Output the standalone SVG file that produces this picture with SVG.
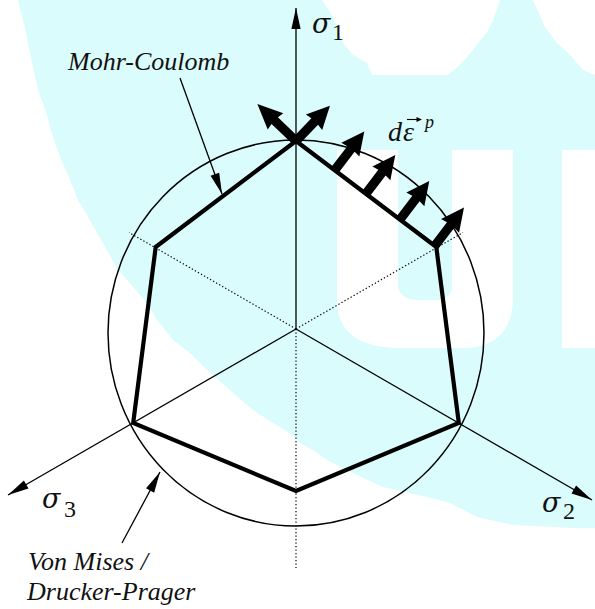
<svg xmlns="http://www.w3.org/2000/svg" xmlns:xlink="http://www.w3.org/1999/xlink" width="595" height="609" viewBox="0 0 595 609">
<style>
.bgc{fill:#dbfcfc}
.bgw{fill:#ffffff}
.thin{fill:none;stroke:#000;stroke-width:1.3}
.dot{fill:none;stroke:#000;stroke-width:1.2;stroke-dasharray:1.3 2.2}
.thick{fill:none;stroke:#000;stroke-width:4.2;stroke-linejoin:miter}
.lbl{font-family:"Liberation Serif","Times New Roman",serif;font-style:italic;font-size:26px;fill:#111}
.sig{font-family:"DejaVu Serif","Liberation Serif",serif;font-style:italic;font-size:27px;fill:#111}
.sub{font-family:"Liberation Serif","Times New Roman",serif;font-size:24px;fill:#111}
</style>
<defs>
<marker id="ah" markerUnits="userSpaceOnUse" markerWidth="24" markerHeight="12" viewBox="-22 -6 24 12" refX="0" refY="0" orient="auto">
<path d="M0,0 L-21,-4.6 L-21,4.6 Z" fill="#000"/>
</marker>
<path id="big" d="M0,-4.6 L27,-4.6 L26,-11.3 L49,0 L26,11.3 L27,4.6 L0,4.6 Z" fill="#000"/>
</defs>
<g id="background">
<rect class="bgc" x="0" y="0" width="595" height="609"/>
<polygon class="bgw" points="0,0 18,0 25,28 32,62 38,90 46,112 53,137 60,157 68,175 78,200 88,217 97,233 107,250 115,265 120,272 133,287 147,303 157,320 173,340 190,353 207,370 222,383 233,393 253,410 273,423 293,435 300,443 313,450 327,460 357,475 383,487 427,497 450,503 477,517 513,525 573,528 595,528 595,609 0,609"/>
<polygon class="bgw" points="322,0 333,17 343,43 353,55 367,63 372,75 448,75 462,63 473,50 487,32 493,20 500,0"/>
<polygon class="bgw" points="533,0 545,27 557,43 570,55 583,70 595,75 595,0"/>
<path class="bgw" d="M337,150 L337,305 Q341,348 400,348 L470,348 Q510,344 513,302 L513,150 L452,150 L452,288 Q450,300 435,300 L415,300 Q400,298 398,287 L398,150 Z"/>
<rect class="bgw" x="562" y="150" width="33" height="198"/>
</g>
<g id="connectors">
<line class="dot" x1="296" y1="329" x2="129" y2="232.5"/>
<line class="dot" x1="296" y1="329" x2="463" y2="232.5"/>
<line class="dot" x1="296" y1="329" x2="296" y2="568"/>
<line class="thin" x1="296" y1="329" x2="296" y2="8" marker-end="url(#ah)"/>
<line class="thin" x1="296" y1="329" x2="592" y2="500" marker-end="url(#ah)"/>
<line class="thin" x1="296" y1="329" x2="8" y2="495" marker-end="url(#ah)"/>
<line class="thin" x1="180" y1="78" x2="222" y2="194" marker-end="url(#ah)"/>
<line class="thin" x1="122" y1="543" x2="160" y2="472" marker-end="url(#ah)"/>
</g>
<g id="von-mises">
<ellipse cx="296" cy="333" rx="188" ry="193" fill="none" stroke="#000" stroke-width="1.5"/>
</g>
<g id="mohr-coulomb">
<polygon class="thick" points="296,141 436.3,247 458.8,423 296,491 133.2,423 155.7,247"/>
</g>
<g id="plastic-strain-arrows">
<use xlink:href="#big" transform="translate(296,141) rotate(-136.3) scale(1.09,1)"/>
<use xlink:href="#big" transform="translate(296,141) rotate(-46.1)"/>
<use xlink:href="#big" transform="translate(334.6,170.4) rotate(-52.7)"/>
<use xlink:href="#big" transform="translate(365.6,194.1) rotate(-52.7)"/>
<use xlink:href="#big" transform="translate(399.6,220) rotate(-52.7)"/>
<use xlink:href="#big" transform="translate(434.3,246.5) rotate(-52.7)"/>
</g>
<g id="labels">
<text class="lbl" x="68" y="70">Mohr-Coulomb</text>
<text class="lbl" x="28" y="570">Von Mises /</text>
<text class="lbl" x="27" y="600">Drucker-Prager</text>
<text class="sig" x="312" y="33">σ</text><text class="sub" x="332" y="40">1</text>
<text class="sig" x="42" y="508">σ</text><text class="sub" x="64" y="517">3</text>
<text class="sig" x="542" y="512">σ</text><text class="sub" x="563" y="519">2</text>
<text class="lbl" x="388" y="140.5" style="font-size:28px">d</text>
<text class="lbl" x="403" y="140.5" style="font-size:28px">ε</text>
<text class="lbl" x="425" y="128" style="font-size:18px">p</text>
<path d="M407,119.5 H417" stroke="#000" stroke-width="1.1"/>
<path d="M422,119.5 L416.5,117 L416.5,122 Z" fill="#000"/>
</g>
</svg>
